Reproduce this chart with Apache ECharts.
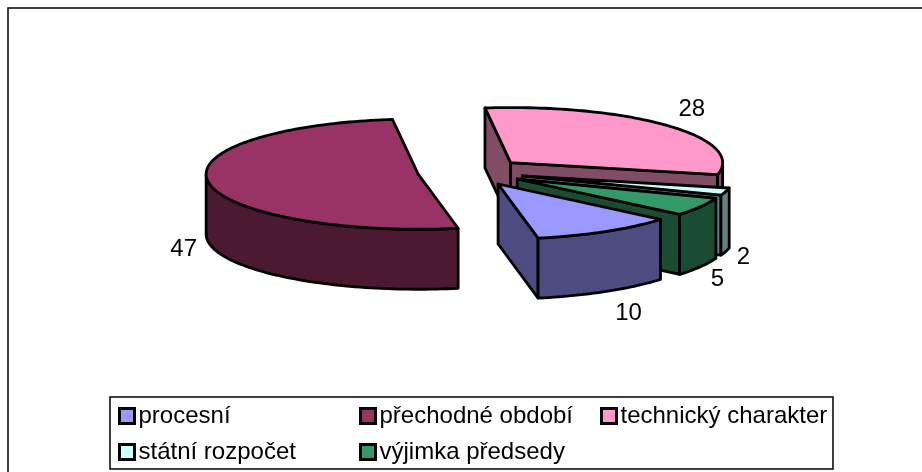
<!DOCTYPE html>
<html>
<head>
<meta charset="utf-8">
<style>html,body{margin:0;padding:0;background:#fff}#c{width:922px;height:472px}</style>
<script src="https://cdn.jsdelivr.net/npm/echarts@6/dist/echarts.min.js"></script>
</head>
<body>
<div id="c"></div>
<script>
// Data, in the pie's clockwise order
const categories = ['procesní', 'přechodné období', 'technický charakter', 'státní rozpočet', 'výjimka předsedy'];
const values = [10, 47, 28, 2, 5];

// Colours
const topColors = ['#9999FF', '#993366', '#FF99CC', '#CCFFFF', '#339966'];
const sideColors = ['#4C4C80', '#4C1933', '#804C66', '#668080', '#194C33'];

// Pie layout (pixels / degrees)
const firstSliceAngle = 130;
const layout = { cx: 471, cy: 172, r: 212, k: 0.26, h: 60, explode: 53.5 };
const labelOffsets = [[23, 22], [-25, 7], [24, -16], [18, 6], [17, 13]];
const drawOrder = [2, 1, 3, 4, 0];

const total = values.reduce((a, b) => a + b, 0);
const rad = d => d * Math.PI / 180;

function sliceGeometry(i) {
  let start = firstSliceAngle;
  for (let j = 0; j < i; j++) start += values[j] / total * 360;
  const end = start + values[i] / total * 360;
  const mid = (start + end) / 2;
  const ax = layout.cx + layout.explode * Math.sin(rad(mid));
  const ay = layout.cy - layout.explode * Math.cos(rad(mid)) * layout.k;
  const pt = a => [ax + layout.r * Math.sin(rad(a)), ay - layout.r * Math.cos(rad(a)) * layout.k];
  return { start, end, mid, ax, ay, pt };
}

function arcPoints(g, from, to) {
  const pts = [];
  const n = Math.max(2, Math.ceil(Math.abs(to - from) / 1.5));
  for (let s = 0; s <= n; s++) pts.push(g.pt(from + (to - from) * s / n));
  return pts;
}

function poly(points, fill) {
  return {
    type: 'polygon', shape: { points },
    style: { fill, stroke: '#000', lineWidth: 2.8, lineJoin: 'round' }
  };
}

function renderSlice(i) {
  const g = sliceGeometry(i);
  const h = layout.h;
  const apex = [g.ax, g.ay];
  const down = p => [p[0], p[1] + h];
  const children = [];
  const radial = a => {
    const p = g.pt(a);
    children.push(poly([apex, p, down(p), down(apex)], sideColors[i]));
  };
  // back-facing walls are skipped
  if (Math.sin(rad(g.start)) < 0) radial(g.start);
  if (Math.sin(rad(g.end)) > 0) radial(g.end);
  // outer wall: the front half of the ellipse only (90..270 degrees)
  for (const shift of [0, 360]) {
    const from = Math.max(g.start, 90 + shift);
    const to = Math.min(g.end, 270 + shift);
    if (to > from) {
      const arc = arcPoints(g, from, to);
      children.push(poly(arc.concat(arc.slice().reverse().map(down)), sideColors[i]));
    }
  }
  // top face
  children.push(poly([apex].concat(arcPoints(g, g.start, g.end)), topColors[i]));
  // value label
  const anchor = g.pt(g.mid);
  const front = Math.cos(rad(g.mid)) < 0;
  children.push({
    type: 'text',
    z2: 100,
    style: {
      x: anchor[0] + labelOffsets[i][0],
      y: anchor[1] + (front ? h : 0) + labelOffsets[i][1],
      text: String(values[i]),
      fill: '#000', font: '24px "Liberation Sans", Arial, sans-serif',
      align: 'center', verticalAlign: 'middle'
    }
  });
  return { type: 'group', children };
}

const series = categories.map((name, i) => ({
  type: 'custom',
  name,
  coordinateSystem: 'none',
  silent: true,
  z: 5 + drawOrder.indexOf(i),
  itemStyle: { color: topColors[i] },
  data: [[values[i]]],
  renderItem: () => renderSlice(i)
}));

function legendColumn(left, indices) {
  return {
    orient: 'vertical', left, top: 404, itemWidth: 15, itemHeight: 15, itemGap: 12, padding: 0,
    selectedMode: false, icon: 'rect',
    textStyle: { fontFamily: '"Liberation Sans", Arial, sans-serif', fontSize: 24, color: '#000', padding: [0, 0, 0, -1] },
    data: indices.map(i => ({
      name: categories[i], icon: 'rect',
      itemStyle: { color: topColors[i], borderColor: '#000', borderWidth: 3 }
    }))
  };
}

const chart = echarts.init(document.getElementById('c'), null, { renderer: 'canvas' });
chart.setOption({
  animation: false,
  backgroundColor: '#fff',
  legend: [legendColumn(118, [0, 3]), legendColumn(359, [1, 4]), legendColumn(600, [2])],
  graphic: [
    { type: 'rect', z: 0, shape: { x: 8, y: 8, width: 930, height: 480 }, style: { fill: '#fff', stroke: '#000', lineWidth: 1.5 } },
    { type: 'rect', z: 1, shape: { x: 110, y: 397, width: 723, height: 72 }, style: { fill: '#fff', stroke: '#000', lineWidth: 1.5 } }
  ],
  series
});
</script>
</body>
</html>
